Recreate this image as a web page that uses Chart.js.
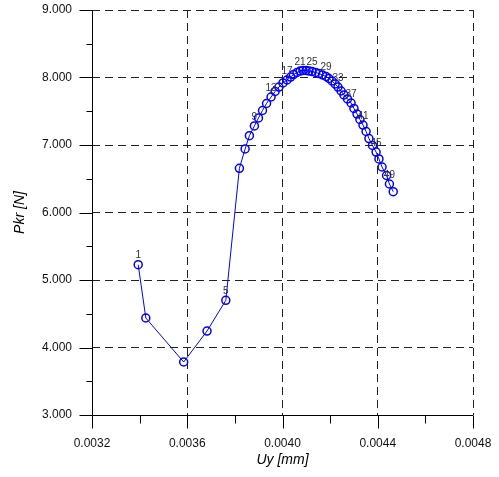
<!DOCTYPE html>
<html>
<head>
<meta charset="utf-8">
<script src="https://cdn.jsdelivr.net/npm/chart.js@4.4.1/dist/chart.umd.min.js"></script>
<style>
  html, body { margin: 0; padding: 0; background: #fff; }
  #chart { display: block; }
</style>
</head>
<body>
<canvas id="chart" width="499" height="477"></canvas>
<script>
// Uy [mm] / Pkr [N]
const uy = [
    0.003394, 0.003426, 0.003585, 0.003683, 0.003762, 0.003819, 0.003843, 0.003861, 0.003882, 0.003899,
    0.003916, 0.003933, 0.003952, 0.003969, 0.003985, 0.004002, 0.004019, 0.004034, 0.004046, 0.004061,
    0.004074, 0.004086, 0.004099, 0.004111, 0.004124, 0.004139, 0.004153, 0.004168, 0.004183, 0.004195,
    0.004208, 0.004221, 0.004233, 0.004246, 0.004258, 0.004273, 0.004288, 0.004300, 0.004313, 0.004325,
    0.004338, 0.004351, 0.004363, 0.004378, 0.004393, 0.004405, 0.004418, 0.004437, 0.004449, 0.004465
];
const pkr = [
    5227, 4437, 3785, 4244, 4699, 6655, 6941, 7138, 7282, 7400,
    7511, 7615, 7711, 7793, 7859, 7919, 7963, 8007, 8044, 8074,
    8096, 8104, 8104, 8096, 8089, 8074, 8059, 8037, 8015, 7985,
    7948, 7904, 7859, 7800, 7741, 7682, 7622, 7541, 7459, 7378,
    7296, 7200, 7096, 6993, 6896, 6793, 6674, 6548, 6422, 6308
];
const labelEvery = 4;

const font = "'Liberation Sans', Arial, sans-serif";
const points = uy.map((u, i) => ({ x: u, y: pkr[i] }));

const isMajorX = (v) => Math.round(v / 0.0002) % 2 === 0;
const isMajorY = (v) => Math.round(v) % 1000 === 0;

// keep the plot box where the layout padding puts it
const noPad = (s) => { s.paddingTop = s.paddingBottom = s.paddingLeft = s.paddingRight = 0; };

// axes with ticks crossing outwards, like the original plot
const axesPlugin = {
    id: "axes",
    afterDraw(chart) {
        const ctx = chart.ctx;
        const xs = chart.scales.x, ys = chart.scales.y;
        const a = chart.chartArea;
        const x0 = Math.round(a.left) + 0.5, y0 = Math.round(a.bottom) + 0.5;
        ctx.save();
        ctx.strokeStyle = "#000";
        ctx.lineWidth = 1;
        ctx.beginPath();
        ctx.moveTo(x0, a.top);
        ctx.lineTo(x0, y0);
        ctx.lineTo(a.right, y0);
        for (const t of ys.ticks) {
            const py = Math.round(ys.getPixelForValue(t.value)) + 0.5;
            ctx.moveTo(x0 - (isMajorY(t.value) ? 13 : 6), py);
            ctx.lineTo(x0, py);
        }
        for (const t of xs.ticks) {
            const px = Math.round(xs.getPixelForValue(t.value)) + 0.5;
            ctx.moveTo(px, y0);
            ctx.lineTo(px, y0 + (isMajorX(t.value) ? 13 : 8));
        }
        ctx.stroke();
        ctx.restore();
    },
    afterDatasetsDraw(chart) {
        const ctx = chart.ctx;
        const meta = chart.getDatasetMeta(0);
        ctx.save();
        ctx.fillStyle = "#333";
        ctx.font = "10px " + font;
        ctx.textAlign = "center";
        ctx.textBaseline = "middle";
        meta.data.forEach((p, i) => {
            if (i % labelEvery === 0) ctx.fillText(String(i + 1), p.x, p.y - 9);
        });
        ctx.restore();
    }
};

new Chart(document.getElementById("chart"), {
    type: "line",
    data: {
        datasets: [{
            data: points,
            borderColor: "#0000ff",
            borderWidth: 1,
            pointStyle: "circle",
            pointRadius: 4,
            pointBorderWidth: 1.5,
            pointBorderColor: "#0000ff",
            pointBackgroundColor: "rgba(0,0,0,0)",
            tension: 0,
        }],
    },
    plugins: [axesPlugin],
    options: {
        responsive: false,
        animation: false,
        layout: { padding: { left: 0, top: 10, right: 26, bottom: 0 } },
        plugins: {
            legend: { display: false },
            tooltip: { enabled: false },
        },
        scales: {
            x: {
                type: "linear",
                min: 0.0032,
                max: 0.0048,
                afterFit: (s) => { s.height = 62; noPad(s); },
                ticks: {
                    stepSize: 0.0002,
                    autoSkip: false,
                    maxRotation: 0,
                    padding: 21,
                    color: "#111",
                    font: { family: font, size: 12 },
                    callback: (v) => isMajorX(v) ? v.toFixed(4) : "",
                },
                grid: {
                    drawTicks: false,
                    color: (c) => (c.tick && isMajorX(c.tick.value) && c.index > 0) ? "#222" : "rgba(0,0,0,0)",
                },
                border: { display: false, dash: [8, 5] },
                title: {
                    display: true,
                    text: "Uy [mm]",
                    color: "#000",
                    font: { family: font, size: 14, style: "italic" },
                    padding: { top: 0, bottom: 8 },
                },
            },
            y: {
                min: 3000,
                max: 9000,
                afterFit: (s) => { s.width = 92; noPad(s); },
                ticks: {
                    stepSize: 500,
                    autoSkip: false,
                    padding: 20,
                    color: "#111",
                    font: { family: font, size: 12 },
                    callback: (v) => isMajorY(v) ? (v / 1000).toFixed(3) : "",
                },
                grid: {
                    drawTicks: false,
                    color: (c) => (c.tick && isMajorY(c.tick.value) && c.tick.value > 3000) ? "#222" : "rgba(0,0,0,0)",
                },
                border: { display: false, dash: [8, 5] },
                title: {
                    display: true,
                    text: "Pkr [N]",
                    color: "#000",
                    font: { family: font, size: 14, style: "italic" },
                    padding: { top: 12, bottom: 0 },
                },
            },
        },
    },
});
</script>
</body>
</html>
